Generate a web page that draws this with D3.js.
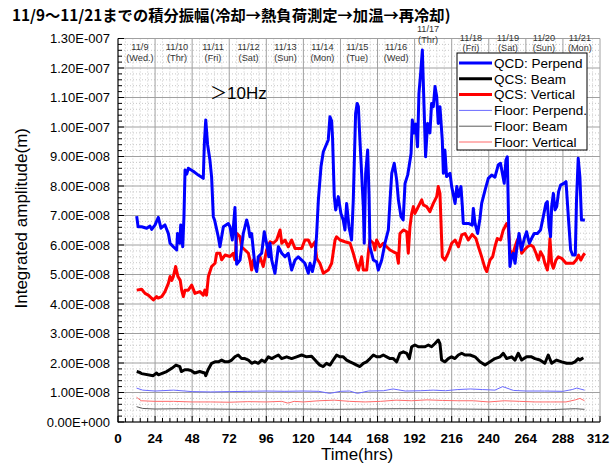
<!DOCTYPE html>
<html><head><meta charset="utf-8">
<script src="https://cdn.jsdelivr.net/npm/d3@7"></script>
<style>body{margin:0;background:#fff}svg{display:block}</style>
</head><body><svg id="c" width="610" height="471"></svg>
<script>
// ---------------- DATA ----------------
const xTicks = [0,24,48,72,96,120,144,168,192,216,240,264,288,312];
const yTickValues = [0,1e-8,2e-8,3e-8,4e-8,5e-8,6e-8,7e-8,8e-8,9e-8,1e-7,1.1e-7,1.2e-7,1.3e-7];
const yTickLabels = ["0.00E+000","1.00E-008","2.00E-008","3.00E-008","4.00E-008","5.00E-008","6.00E-008","7.00E-008","8.00E-008","9.00E-008","1.00E-007","1.10E-007","1.20E-007","1.30E-007"];
const dayLabels = ["11/9","11/10","11/11","11/12","11/13","11/14","11/15","11/16","11/17","11/18","11/19","11/20","11/21"];
const dayNames = ["(Wed.)","(Thr)","(Fri)","(Sat)","(Sun)","(Mon)","(Tue)","(Wed)","(Thr)","(Fri)","(Sat)","(Sun)","(Mon)"];
const dayLabelHours = [14.2,38.2,61.5,84.5,108.4,132.3,154.9,180,200.7,228.5,252.4,275.7,299];
const seriesNames = ["QCD: Perpend","QCS: Beam","QCS: Vertical","Floor: Perpend.","Floor: Beam","Floor: Vertical"];
const UNIT = 1e-8; // values below are in units of 1e-8 m

const qcdPerpT = [12.1,13,15.3,18.6,20.7,21.8,24,26.1,27.8,30.4,32.6,33.7,35.8,38,38.5,40,40.6,41.9,42.7,43.4,44.5,45.5,48.7,52,55.2,55.9,56.8,58,59.5,60.6,61.7,62.5,64.9,66,68.2,71.4,72.5,74,75.7,76.8,79,81.1,83.3,84.4,85.4,86.5,87.6,88.7,89.8,90.8,93,94.7,96.6,97.6,98.4,99.5,101.6,103.8,106,108.1,110.2,112.4,114.6,116.7,118.9,121,123.2,124.3,125.8,127.5,128.6,129.7,131.4,132.9,136.1,137.2,138.3,138.9,140,140.9,142.6,144.3,145.8,146.9,148,149.5,151.2,152.3,153.8,154.8,155.6,156.6,157.7,158.8,159.4,160.3,161.6,162.5,163.1,164.2,165.3,167.4,168.5,170.7,172.8,175,176.1,177.2,178.8,180.4,181.5,183.2,184.6,185.8,187.5,188.4,189.7,190.5,191.8,192.7,193.9,194.8,195.9,197,198.1,199.1,200.4,201.9,203,204.1,205.2,206.3,207.3,208.4,209.9,210.6,211.6,212.7,214.9,216,218.2,219.3,220.4,222,222.9,223.5,226.8,229.3,230,231.1,232.8,234.3,235.4,237.6,239.7,241.9,244,246.1,247.6,248.8,250,251.1,252,252.9,253.7,254.8,255.9,257,258,259.6,261.2,263,264.5,266.2,267.7,269.4,271.5,273.5,275.3,277,277.9,279,280,280.7,281.8,282.9,284,285.2,286.5,288.6,290,291.5,293,294.3,296,296.8,297.9,299,300,302.2];
const qcdPerpV = [6.98,6.62,6.62,6.57,6.64,6.53,6.68,6.94,6.57,6.68,6.39,6.06,5.94,5.83,6.39,6.06,6.68,5.94,6.96,8.54,8.4,8.6,8.5,8.37,8.26,9.45,10.24,9.4,8.88,8.3,6.96,6.85,6.28,5.94,6.62,6.73,6.62,6.17,7.27,5.35,5.49,6.39,6.85,6.62,6.28,6.39,5.83,5.27,5.1,5.6,5.72,6.45,5.94,5.6,6.06,5.49,5.04,5.94,5.72,5.6,5.72,5.15,5.49,5.6,5.49,5.38,5.04,5.38,5.1,5.49,6.39,7.53,8.65,9.16,9.56,10.35,10.2,9.6,7.64,7.19,7.64,7.07,6.85,6.51,7.41,6.62,6.17,7.53,10.46,10.8,10.69,9.56,8.43,7.3,6.06,8.43,9.22,7.7,5.94,5.72,5.49,5.43,5.15,5.49,6.06,6.51,7.53,8.43,8.77,8.2,7.53,6.96,6.85,8.09,8.37,8.65,9.1,10.24,9.8,10.1,9.33,11.14,11.82,12.61,10.69,8.99,10.12,9.8,10.8,10.69,11.37,11.03,10.12,10.69,9.56,8.43,9.22,8.32,8.43,7.98,7.41,7.98,7.64,7.98,7.3,6.73,6.73,6.67,7.24,6.73,6.39,6.9,7.41,7.86,8.26,8.37,8.3,8.71,8.77,8.43,8.09,8.88,8.99,6.62,5.27,5.61,5.72,5.38,5.83,6.39,5.83,6.22,6.45,6.06,6.22,6.39,6.39,6.51,6.96,7.41,7.47,6.62,6.28,7.3,7.75,7.19,7.3,7.81,8.03,8.09,8.15,6.96,5.83,5.66,5.66,7.53,8.94,8.3,6.85,6.85];

const qcsVertT = [12.1,15.3,17.5,19.6,22.9,25,26,28.3,30.4,32.6,33.7,34.8,35.8,37.3,38.8,40.3,41.2,42.3,43.4,45.5,47.7,49.8,53,55.2,56.2,57.3,58.5,60.6,62.8,63.9,66,67.1,69.3,72.5,74.6,75.7,77,79,80,82.2,84.4,85.4,86.5,87.6,89.8,91.9,94,96.2,98.4,100.5,102.7,104.9,106,108.1,110.2,112.4,114.6,118.9,121,123.2,125.3,127.5,128.6,130.7,132.9,136.1,138.3,140.5,141.5,143.7,146.9,150.2,152.3,154.5,155.6,157.7,158.8,161,162,163.1,165.3,166.3,167.4,169.6,171.7,173.9,176.1,178.2,180.4,181.5,182.5,184.7,186.9,187.9,189,190.1,191.2,192.2,194.4,196.6,197.6,199.8,201.9,204.1,206.3,207.3,208.4,209.9,211.6,213.7,216,218.2,220.4,222.5,224.6,226.8,229.3,231.7,233.3,235.4,237.6,238.7,240.8,242.5,244,245.5,247.6,249.4,251.6,252.6,253.7,255.5,257,258.5,259.8,261.3,263,265,267.1,268.8,270.6,272.1,273.5,275.3,276.3,277.9,278.8,279.6,280.7,281.8,283.5,285,287.2,290,292.2,294.8,296.6,298.1,299.6,301.3,302.2];
const qcsVertV = [4.47,4.5,4.36,4.3,4.14,4.25,4.2,4.25,4.42,4.7,4.93,4.8,4.93,5.27,4.93,4.8,4.47,4.25,4.47,4.47,4.64,4.36,4.42,4.3,4.47,4.3,4.93,5.27,5.38,5.72,5.72,5.5,5.66,5.61,5.72,5.5,6.39,6.28,5.94,5.83,5.72,5.49,5.15,5.49,5.27,5.6,5.27,5.83,6.11,6.06,6.17,6.51,6.06,6.17,5.94,6.17,5.88,5.88,6.17,6.17,5.94,6.11,5.55,5.38,5.04,5.15,5.38,6.17,6.28,6.17,6.11,6.06,5.72,5.3,5.15,5.6,5.15,5.15,5.72,6.17,6.06,5.83,6.17,5.94,6.06,5.94,5.83,5.77,5.72,5.38,6.39,6.51,6.45,5.72,6.62,7.07,7.3,7.07,7.3,7.53,7.36,7.3,7.13,7.41,7.64,7.98,7.75,5.6,5.49,5.72,6.06,6.17,5.94,6.34,6.39,6.17,6.36,6.22,5.94,5.6,5.21,5.1,5.49,5.6,5.94,6.22,6.17,6.51,6.73,6.62,5.83,5.66,5.94,6.17,6.28,5.72,5.83,5.94,6.0,5.94,5.72,5.49,5.77,5.6,5.38,5.15,5.49,6.22,5.38,5.21,5.49,5.6,5.55,5.38,5.38,5.38,5.49,5.66,5.49,5.66,5.72];

const qcsBeamT = [12.1,14.2,15.3,22.8,25,26.1,31.5,34.8,37.5,40,41,43.2,45.3,47.5,49.6,52.9,56.1,56.8,58.3,60.6,62.8,65,67.1,69.3,71.4,73.6,75.7,77.8,80,82.2,84.4,86.5,88.6,90.8,93,95.1,97.3,99.5,101.6,103.8,105.9,109.2,112.4,115.6,118.9,122.1,125.3,128.6,130.7,132.9,135,137.2,139.3,141.5,143.7,145.8,148,150.2,152.3,154.5,156.6,158.8,160.9,163.1,165.3,167.4,169.6,171.7,173.9,176.1,178.2,180.4,182.5,184.7,186.9,188.6,190.1,192.2,194.4,196.6,198.7,200.9,203,205.2,207.3,208.4,209.5,211.6,213.8,215.9,218.1,220.3,222.5,224.6,227.9,231.1,234.3,237.6,240.8,244,247.3,249.4,251.6,254.8,257,259.1,261.3,264.5,267.7,269.9,273.1,276.3,278.5,280.7,283.9,287.2,290.4,293.6,295.8,297.9,299,301.2];
const qcsBeamV = [1.71,1.68,1.64,1.57,1.66,1.6,1.71,1.82,1.93,1.88,1.71,1.77,1.77,1.74,1.66,1.71,1.66,1.57,1.77,1.99,2.04,2.04,2.1,2.04,2.04,2.1,2.21,2.27,2.15,2.15,2.1,1.99,2.04,1.99,2.1,2.04,2.21,2.15,2.21,2.27,2.15,2.21,2.15,2.21,2.27,2.21,2.23,2.04,1.93,1.88,1.99,1.93,2.1,2.27,2.21,2.21,2.1,2.04,1.99,1.93,1.88,1.99,2.04,2.15,2.27,2.21,2.21,2.27,2.21,2.15,2.15,2.04,2.33,2.38,2.33,2.15,2.55,2.61,2.55,2.55,2.55,2.61,2.55,2.66,2.78,2.66,2.1,2.04,2.15,2.21,2.15,2.27,2.33,2.27,2.27,2.21,2.04,1.93,2.04,2.15,2.21,2.33,2.15,2.21,2.1,2.33,2.1,2.21,2.21,2.15,2.1,1.99,2.27,1.99,2.1,2.04,1.99,1.99,2.04,2.15,2.1,2.18];

const floorPerpT = [12,16,24,36,48,60,72,84,96,108,120,130,137,144,150,155,162,172,178,186,196,204,212,220,228,236,244,249,256,264,276,288,294,297,302];
const floorPerpV = [1.15,1.08,1.05,1.08,1.03,1.02,1.03,1.04,1.05,1.04,1.05,1.04,0.97,1.04,1.05,0.97,1.05,1.06,1.12,1.05,1.06,1.08,1.06,1.1,1.12,1.1,1.08,1.2,1.07,1.05,1.05,1.04,1.1,1.15,1.08];
const floorBeamT = [12,16,24,40,60,80,100,120,140,160,180,200,220,240,260,280,296,302];
const floorBeamV = [0.52,0.46,0.44,0.45,0.44,0.43,0.44,0.44,0.43,0.44,0.45,0.45,0.44,0.43,0.42,0.42,0.45,0.43];
const floorVertT = [12,15,24,36,48,60,72,84,96,106,110,114,120,130,140,150,160,170,180,190,200,210,220,230,240,250,260,270,280,290,296,299,302];
const floorVertV = [0.84,0.72,0.7,0.7,0.68,0.68,0.67,0.69,0.68,0.7,0.64,0.7,0.68,0.72,0.74,0.7,0.68,0.7,0.74,0.72,0.75,0.73,0.72,0.72,0.68,0.72,0.7,0.68,0.68,0.68,0.75,0.8,0.72];

// ---------------- CHART ----------------
const svg = d3.select("#c");
const W = 610, H = 471;
const L = 118, R = 600, T = 38.5, B = 422;
const x = d3.scaleLinear().domain([0, 312]).range([L, R]);
const y = d3.scaleLinear().domain([0, 1.3e-7]).range([B, T]);
const FONT = "'Liberation Sans', Arial, sans-serif";

svg.append("rect").attr("width", W).attr("height", H).attr("fill", "#fff");

// minor grid
const g = svg.append("g");
const minorX = d3.range(0, 312.001, 4.8).filter(v => Math.abs(v / 24 - Math.round(v / 24)) > 1e-6);
const minorY = d3.range(0, 1.3e-7 + 1e-12, 0.2e-8).filter(v => Math.abs(v / 1e-8 - Math.round(v / 1e-8)) > 1e-6);
g.selectAll(".mx").data(minorX).join("line")
  .attr("x1", d => x(d)).attr("x2", d => x(d)).attr("y1", T).attr("y2", B)
  .attr("stroke", "#c8c8c8").attr("stroke-width", 1).attr("stroke-dasharray", "1,2");
g.selectAll(".my").data(minorY).join("line")
  .attr("x1", L).attr("x2", R).attr("y1", d => y(d)).attr("y2", d => y(d))
  .attr("stroke", "#c8c8c8").attr("stroke-width", 1).attr("stroke-dasharray", "1,2");
// major grid
g.selectAll(".Mx").data(xTicks).join("line")
  .attr("x1", d => x(d)).attr("x2", d => x(d)).attr("y1", T).attr("y2", B)
  .attr("stroke", "#a0a0a0").attr("stroke-width", 1);
g.selectAll(".My").data(yTickValues).join("line")
  .attr("x1", L).attr("x2", R).attr("y1", d => y(d)).attr("y2", d => y(d))
  .attr("stroke", "#a0a0a0").attr("stroke-width", 1);

// day labels
const dl = svg.append("g").attr("font-family", FONT).attr("font-size", 9.2).attr("fill", "#333").attr("text-anchor", "middle");
dayLabels.forEach((lab, i) => {
  let y1 = 50, y2 = 60.5;
  if (i === 8) { y1 = 32; y2 = 42.5; }
  else if (i > 8) { y1 = 40.5; y2 = 51; }
  dl.append("text").attr("x", x(dayLabelHours[i])).attr("y", y1).text(lab);
  dl.append("text").attr("x", x(dayLabelHours[i])).attr("y", y2).text(dayNames[i]);
});

// series
const line = d3.line().x(d => x(d[0])).y(d => y(d[1] * UNIT));
const zip = (a, b) => a.map((t, i) => [t, b[i]]);
const series = [
  {t: floorBeamT, v: floorBeamV, color: "#5a5a5a", w: 1},
  {t: floorVertT, v: floorVertV, color: "#ff6b6b", w: 1},
  {t: floorPerpT, v: floorPerpV, color: "#6a6aff", w: 1},
  {t: qcsBeamT, v: qcsBeamV, color: "#000000", w: 3},
  {t: qcsVertT, v: qcsVertV, color: "#ff0000", w: 3},
  {t: qcdPerpT, v: qcdPerpV, color: "#0000ff", w: 3}
];
series.forEach(s => {
  svg.append("path").datum(zip(s.t, s.v)).attr("d", line)
    .attr("fill", "none").attr("stroke", s.color).attr("stroke-width", s.w)
    .attr("stroke-linejoin", "round");
});

// axes lines & ticks
const ax = svg.append("g").attr("stroke", "#000").attr("stroke-width", 1);
ax.append("line").attr("x1", L).attr("x2", L).attr("y1", T).attr("y2", B + 0.5);
ax.append("line").attr("x1", L).attr("x2", R).attr("y1", B).attr("y2", B);
ax.selectAll(".ty").data(minorY).join("line")
  .attr("x1", L).attr("x2", L + 4).attr("y1", d => y(d)).attr("y2", d => y(d));
ax.selectAll(".tY").data(yTickValues).join("line")
  .attr("x1", L).attr("x2", L + 6).attr("y1", d => y(d)).attr("y2", d => y(d));
ax.selectAll(".tx").data(minorX).join("line")
  .attr("x1", d => x(d)).attr("x2", d => x(d)).attr("y1", B).attr("y2", B - 4);
ax.selectAll(".tX").data(xTicks).join("line")
  .attr("x1", d => x(d)).attr("x2", d => x(d)).attr("y1", B).attr("y2", B - 6);

// tick labels
svg.append("g").attr("font-family", FONT).attr("font-size", 13).attr("text-anchor", "end")
  .selectAll("text").data(yTickValues).join("text")
  .attr("x", 110).attr("y", d => y(d)).attr("dy", "0.35em").text((d, i) => yTickLabels[i]);
svg.append("g").attr("font-family", FONT).attr("font-size", 13.5).attr("font-weight", "bold").attr("text-anchor", "middle")
  .selectAll("text").data(xTicks).join("text")
  .attr("x", (d, i) => i === xTicks.length - 1 ? x(d) - 2 : x(d)).attr("y", 443).text(d => d);

// axis titles
svg.append("text").attr("font-family", FONT).attr("font-size", 17).attr("text-anchor", "middle")
  .attr("transform", "translate(27," + ((T + B) / 2 - 12) + ") rotate(-90)").text("Integrated amplitude(m)");
svg.append("text").attr("font-family", FONT).attr("font-size", 17).attr("text-anchor", "middle")
  .attr("x", (L + R) / 2 - 2).attr("y", 460).text("Time(hrs)");

// title
svg.append("text").attr("font-family", "'Noto Sans CJK JP', sans-serif").attr("font-weight", "bold")
  .attr("font-size", 15.3).attr("x", 12).attr("y", 21).text("11/9～11/21までの積分振幅(冷却→熱負荷測定→加温→再冷却)");

// annotation
svg.append("text").attr("font-family", FONT + ", 'Noto Sans CJK JP'").attr("font-size", 17)
  .attr("x", 210).attr("y", 99).text("＞10Hz");

// legend
const lg = svg.append("g");
lg.append("rect").attr("x", 457).attr("y", 53).attr("width", 130).attr("height", 97)
  .attr("fill", "#fff").attr("stroke", "#000").attr("stroke-width", 1);
const legColors = ["#0000ff", "#000000", "#ff0000", "#6a6aff", "#5a5a5a", "#ff6b6b"];
const legW = [3, 3, 3, 1, 1, 1];
seriesNames.forEach((n, i) => {
  const yy = 63 + i * 15.8;
  lg.append("line").attr("x1", 459).attr("x2", 492).attr("y1", yy).attr("y2", yy)
    .attr("stroke", legColors[i]).attr("stroke-width", legW[i]);
  lg.append("text").attr("x", 494).attr("y", yy).attr("dy", "0.36em")
    .attr("font-family", FONT).attr("font-size", 13.5).text(n);
});
</script></body></html>
